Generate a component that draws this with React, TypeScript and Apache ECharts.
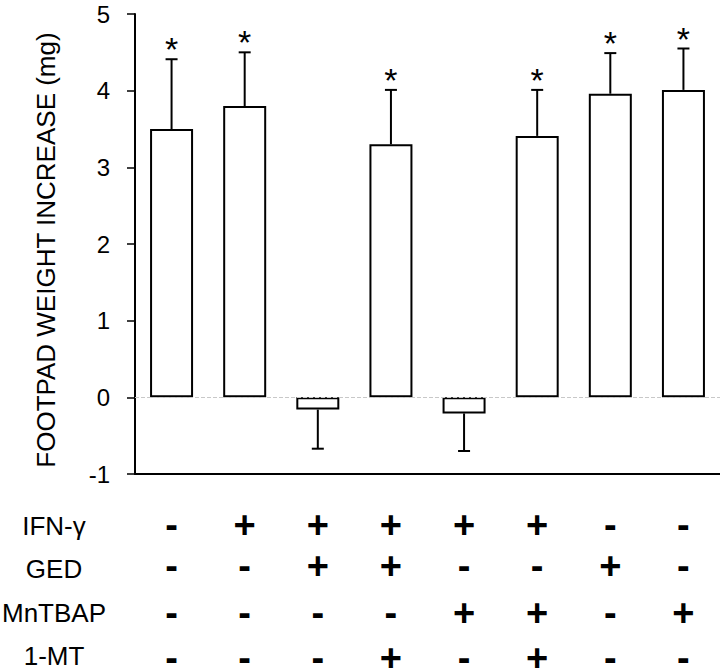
import React, { useEffect, useRef } from "react";
import * as echarts from "echarts";

const groups = ["1", "2", "3", "4", "5", "6", "7", "8"];
const means = [3.5, 3.8, -0.16, 3.3, -0.21, 3.41, 3.96, 4.01];
const errors = [0.91, 0.7, 0.51, 0.71, 0.49, 0.6, 0.53, 0.54];
const significant = [true, true, false, true, false, true, true, true];
const yTicks = { min: -1, max: 5, interval: 1 };
const rowLabels = ["IFN-γ", "GED", "MnTBAP", "1-MT"];
const ifn = ["-", "+", "+", "+", "+", "+", "-", "-"];
const ged = ["-", "-", "+", "+", "-", "-", "+", "-"];
const mntbap = ["-", "-", "-", "-", "+", "+", "-", "+"];
const mt = ["-", "-", "-", "+", "-", "+", "-", "-"];
const rows = [ifn, ged, mntbap, mt];
const yTitle = "FOOTPAD WEIGHT INCREASE (mg)";

const FONT = "Liberation Sans, Arial, sans-serif";
const AXIS_Y = 474;
const ROW_Y = [526, 569, 613, 656];
const SYM_Y = [525, 566, 613, 658];

export default function App() {
  const ref = useRef<HTMLDivElement>(null);
  useEffect(() => {
    if (!ref.current) return;
    const chart = echarts.init(ref.current, null, { renderer: "svg" });
    const tableAxes = rows.map((row, r) => ({
      type: "category",
      gridIndex: 0,
      position: "bottom",
      data: groups,
      axisLine: { show: false },
      axisTick: { show: false },
      splitLine: { show: false },
      axisLabel: {
        interval: 0,
        margin: SYM_Y[r] - AXIS_Y,
        verticalAlign: "middle",
        fontSize: 38,
        fontWeight: "bold",
        lineHeight: 10,
        fontFamily: FONT,
        color: "#000",
        formatter: (_v: string, i: number) => row[i],
      },
    }));
    const option: any = {
      animation: false,
      grid: {
        left: 135,
        right: 0,
        top: 14,
        bottom: 668 - AXIS_Y,
        containLabel: false,
        outerBoundsMode: "none",
      },
      xAxis: [
        {
          type: "category",
          data: groups,
          axisLine: { onZero: false, lineStyle: { color: "#000", width: 2 } },
          axisTick: { show: false },
          axisLabel: { show: false },
          splitLine: { show: false },
        },
        ...tableAxes,
      ],
      yAxis: {
        type: "value",
        min: yTicks.min,
        max: yTicks.max,
        interval: yTicks.interval,
        axisLine: { show: true, lineStyle: { color: "#000", width: 2 } },
        axisTick: { show: true, length: 8, lineStyle: { color: "#000", width: 1.5 } },
        axisLabel: { margin: 25, fontSize: 24, color: "#000", fontFamily: FONT },
        splitLine: { show: false },
      },
      graphic: [
        {
          type: "text",
          x: 46,
          y: 250,
          rotation: Math.PI / 2,
          style: {
            text: yTitle,
            fontSize: 26,
            fontFamily: FONT,
            fill: "#000",
            align: "center",
            verticalAlign: "middle",
          },
        },
        ...rowLabels.map((t, r) => ({
          type: "text",
          x: 54,
          y: ROW_Y[r],
          style: {
            text: t,
            fontSize: 26,
            lineHeight: 20,
            fontFamily: FONT,
            fill: "#000",
            align: "center",
            verticalAlign: "middle",
          },
        })),
      ],
      series: [
        {
          type: "bar",
          data: means,
          barWidth: 43,
          itemStyle: { color: "#fff", borderColor: "#000", borderWidth: 2 },
          markLine: {
            silent: true,
            symbol: "none",
            label: { show: false },
            lineStyle: { color: "#c8c8c8", type: "dashed", width: 1 },
            data: [{ yAxis: 0 }],
          },
          z: 2,
        },
        {
          type: "custom",
          data: means.map((m, i) => [i, m, errors[i], significant[i] ? 1 : 0]),
          z: 3,
          renderItem: (_params: any, api: any) => {
            const i = api.value(0);
            const v = api.value(1);
            const e = api.value(2);
            const star = api.value(3);
            const end = v >= 0 ? v + e : v - e;
            const p0 = api.coord([i, v]);
            const p1 = api.coord([i, end]);
            const stroke = { stroke: "#000", lineWidth: 2 };
            const children: any[] = [
              { type: "line", shape: { x1: p0[0], y1: p0[1], x2: p1[0], y2: p1[1] }, style: stroke },
              { type: "line", shape: { x1: p1[0] - 6, y1: p1[1], x2: p1[0] + 6, y2: p1[1] }, style: stroke },
            ];
            if (star) {
              children.push({
                type: "text",
                x: p1[0],
                y: p1[1] - 10,
                style: {
                  text: "*",
                  fontSize: 34,
                  fontFamily: FONT,
                  fill: "#000",
                  align: "center",
                  verticalAlign: "middle",
                },
              });
            }
            return { type: "group", children };
          },
        },
      ],
    };
    chart.setOption(option);
    return () => chart.dispose();
  }, []);
  return (
    <div
      ref={ref}
      style={{ position: "absolute", left: 0, top: 0, width: 720, height: 668, background: "#fff" }}
    />
  );
}
